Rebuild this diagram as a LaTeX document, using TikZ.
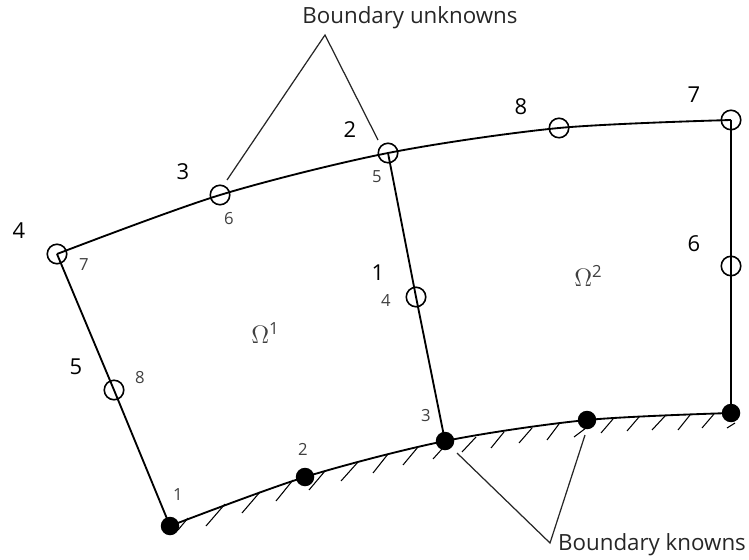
\documentclass[tikz,border=0pt]{standalone}
\usepackage{fontspec}
\setmainfont{Open Sans}
\usepackage{tikz}
\begin{document}
\begin{tikzpicture}[
    x=0.02cm, y=-0.02cm,
    known/.style={circle, fill=black, inner sep=0pt, minimum size=0.37cm},
    unknown/.style={circle, draw=black, line width=0.9pt, inner sep=0pt, minimum size=0.39cm},
    bignum/.style={font=\fontsize{12.5}{15}\selectfont, text=black, inner sep=0pt},
    smallnum/.style={font=\fontsize{9.5}{11}\selectfont, text=black!75, inner sep=0pt},
    subdomain/.style={font=\fontsize{14.4}{16}\selectfont, text=black!75, inner sep=0pt},
    caption/.style={font=\fontsize{12.7}{15}\selectfont, text=black!85, inner sep=0pt},
    leader/.style={draw=black!85, line width=0.7pt},
    edge/.style={draw=black, line width=1.05pt},
    hatch/.style={draw=black, line width=0.6pt}
]
    \useasboundingbox (0,0) rectangle (749,560);

    % --- Nodes on the known boundary ---
    \node[known] (k1) at (170,526) {};
    \node[known] (k2) at (305,477) {};
    \node[known] (k3) at (445,441) {};
    \node[known] (k4) at (587,420) {};
    \node[known] (k5) at (731,413) {};

    % --- Nodes on the unknown boundary ---
    \node[unknown] (u1) at (114,390) {};
    \node[unknown] (u2) at (57,254) {};
    \node[unknown] (u3) at (220,195) {};
    \node[unknown] (u4) at (388,153) {};
    \node[unknown] (u5) at (559,128) {};
    \node[unknown] (u6) at (731,120) {};
    \node[unknown] (u7) at (731,266) {};
    \node[unknown] (u8) at (416,297) {};

    % --- Edges ---
    \draw[edge] plot[smooth] coordinates {(k1.center) (k2.center) (k3.center) (k4.center) (k5.center)};
    \draw[edge] plot[smooth] coordinates {(u2.center) (u3.center) (u4.center) (u5.center) (u6.center)};
    \draw[edge] (k1.center) -- (u1.center) -- (u2.center);
    \draw[edge] (k3.center) -- (u8.center) -- (u4.center);
    \draw[edge] (k5.center) -- (u7.center) -- (u6.center);

    % --- Hatching below the known boundary ---
    \foreach \xa/\ya/\xb/\yb in {
        188/518/178/530, 225/504/206/526, 260/492/242/513, 293/480/276/501,
        325/471/309/490, 358/462/341/481, 388/454/373/473, 418/447/403/465,
        442/449/433/459, 476/437/462/452, 504/432/491/448, 532/428/519/443,
        559/424/547/440, 586/428/574/437, 613/419/601/433, 639/417/627/431,
        665/416/652/430, 690/415/678/430, 714/414/702/428, 735/423/727/428}
        \draw[hatch] (\xa,\ya) -- (\xb,\yb);

    % --- Big numbers ---
    \node[bignum] (n1) at (378,273) {1};
    \node[bignum] (n2) at (350,130) {2};
    \node[bignum] (n3) at (183,172) {3};
    \node[bignum] (n4) at (19,231) {4};
    \node[bignum] (n5) at (76,367) {5};
    \node[bignum] (n6) at (694,244) {6};
    \node[bignum] (n7) at (694,95) {7};
    \node[bignum] (n8) at (521,107) {8};

    % --- Small numbers ---
    \node[smallnum] (s1) at (178,495) {1};
    \node[smallnum] (s2) at (303,449) {2};
    \node[smallnum] (s3) at (426,416) {3};
    \node[smallnum] (s4) at (386,301) {4};
    \node[smallnum] (s5) at (377,177) {5};
    \node[smallnum] (s6) at (229,219) {6};
    \node[smallnum] (s7) at (84,265) {7};
    \node[smallnum] (s8) at (140,378) {8};

    % --- Subdomains ---
    \node[subdomain] (o1) at (265,333) {$\Omega$\raisebox{0.32em}{\fontsize{9.5}{11}\selectfont 1}};
    \node[subdomain] (o2) at (588,276) {$\Omega$\raisebox{0.32em}{\fontsize{9.5}{11}\selectfont 2}};

    % --- Captions and leaders ---
    \node[caption] (top) at (410,18) {Boundary unknowns};
    \node[caption] (bot) at (652,545) {Boundary knowns};
    \coordinate (apexu) at (325,35);
    \coordinate (endu1) at (227,180);
    \coordinate (endu2) at (378,140);
    \coordinate (apexk) at (550,543);
    \coordinate (endk1) at (457,453);
    \coordinate (endk2) at (585,435);
    \draw[leader] (endu1) -- (apexu) -- (endu2);
    \draw[leader] (endk1) -- (apexk) -- (endk2);
\end{tikzpicture}
\end{document}
